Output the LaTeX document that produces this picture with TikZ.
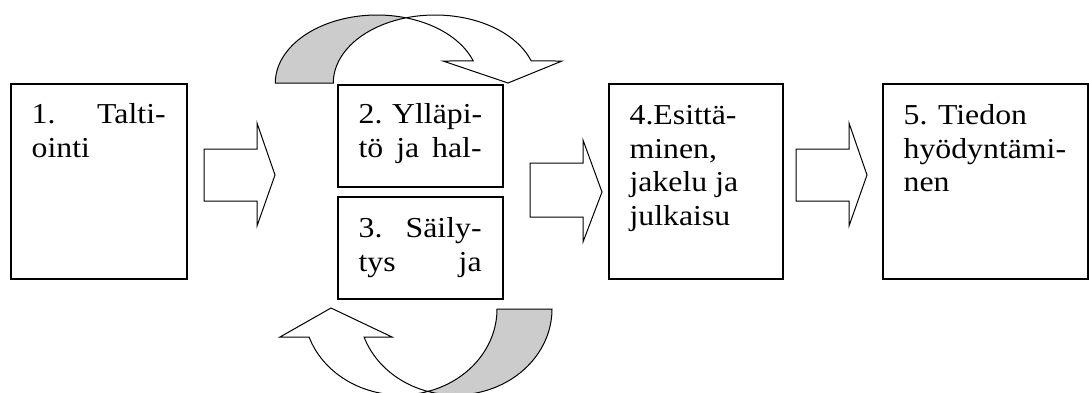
\documentclass[tikz,border=0pt]{standalone}
\usepackage{graphicx}
\usepackage{fontspec}
\setmainfont{Liberation Serif}
\definecolor{bandshade}{RGB}{204,204,204}
% a justified line spanning the text width
\newcommand\fullline[1]{\makebox[\linewidth][s]{#1}}
% stage text, set a little wide
\newcommand\stagelines[2]{\scalebox{1.1}[1]{\parbox[t]{#1}{\raggedright #2}}}
\begin{document}
\begin{tikzpicture}[x=1bp,y=-1bp,
  stage/.style={draw, line width=1.1bp, rectangle, inner sep=0pt},
  stagetext/.style={anchor=base west, inner sep=0pt,
    font=\fontsize{29}{33.7}\selectfont},
  blockarrow/.style={draw, line width=1bp, fill=white, line join=miter},
  band/.style={draw, line width=1bp, line join=miter}]
\useasboundingbox (0,0) rectangle (1089,392);

% process stages
\node[stage, minimum width=176bp, minimum height=195bp] (b1) at (99,181.5) {};
\node[stage, minimum width=165bp, minimum height=102bp] (b2) at (420.5,136) {};
\node[stage, minimum width=165bp, minimum height=102bp] (b3) at (420.5,248) {};
\node[stage, minimum width=174bp, minimum height=195bp] (b4) at (696,181.5) {};
\node[stage, minimum width=205bp, minimum height=195bp] (b5) at (985.5,181.5) {};

\node[stagetext] (t1) at ([shift={(21,40)}]b1.north west)
  {\stagelines{121.8bp}{\fullline{1. Talti-}\\ointi}};
\node[stagetext] (t2) at ([shift={(21,39)}]b2.north west)
  {\stagelines{111.8bp}{\fullline{2. Ylläpi-}\\\fullline{tö ja hal-}}};
\node[stagetext] (t3) at ([shift={(21,41)}]b3.north west)
  {\stagelines{111.8bp}{\fullline{3. Säily-}\\\fullline{tys ja}}};
\node[stagetext] (t4) at ([shift={(21,41)}]b4.north west)
  {\stagelines{125bp}{4.Esittä-\\minen,\\jakelu ja\\julkaisu}};
\node[stagetext] (t5) at ([shift={(21,41)}]b5.north west)
  {\stagelines{155bp}{5. Tiedon\\hyödyntämi-\\nen}};

% block arrows between the stages
\draw[blockarrow] (204,149) -- (257,149) -- (257,123) -- (275,175)
  -- (257,226) -- (257,201) -- (204,201) -- cycle;
\draw[blockarrow] (530,163) -- (583,163) -- (583,140) -- (602,192)
  -- (583,242) -- (583,217) -- (530,217) -- cycle;
\draw[blockarrow] (796,149) -- (849,149) -- (849,123) -- (867,175)
  -- (849,226) -- (849,201) -- (796,201) -- cycle;

% curved arrow over stage 2: shaded underside, then the front of the band
\filldraw[band, fill=bandshade]
  plot[domain=180:73.4, samples=50] ({377+101.7*cos(\x)},{83-68*sin(\x)})
  -- plot[domain=106.6:180, samples=50] ({435+101.7*cos(\x)},{83-68*sin(\x)})
  -- cycle;
\filldraw[band, fill=white]
  plot[domain=106.6:18.9, samples=50] ({435+101.7*cos(\x)},{83-68*sin(\x)})
  -- (562,61) -- (508,83) -- (443,61)
  -- plot[domain=18.9:73.4, samples=50] ({377+101.7*cos(\x)},{83-68*sin(\x)})
  -- cycle;

% curved arrow under stage 3
\filldraw[band, fill=bandshade]
  plot[domain=0:106.5, samples=50] ({455.4+96.6*cos(\x)},{309+86*sin(\x)})
  -- plot[domain=73.4:0, samples=50] ({400.4+96.6*cos(\x)},{309+86*sin(\x)})
  -- cycle;
\filldraw[band, fill=white]
  plot[domain=73.4:161, samples=50] ({400.4+96.6*cos(\x)},{309+86*sin(\x)})
  -- (280,337) -- (331,308) -- (392,337)
  -- plot[domain=161:106.5, samples=50] ({455.4+96.6*cos(\x)},{309+86*sin(\x)})
  -- cycle;
\end{tikzpicture}
\end{document}
